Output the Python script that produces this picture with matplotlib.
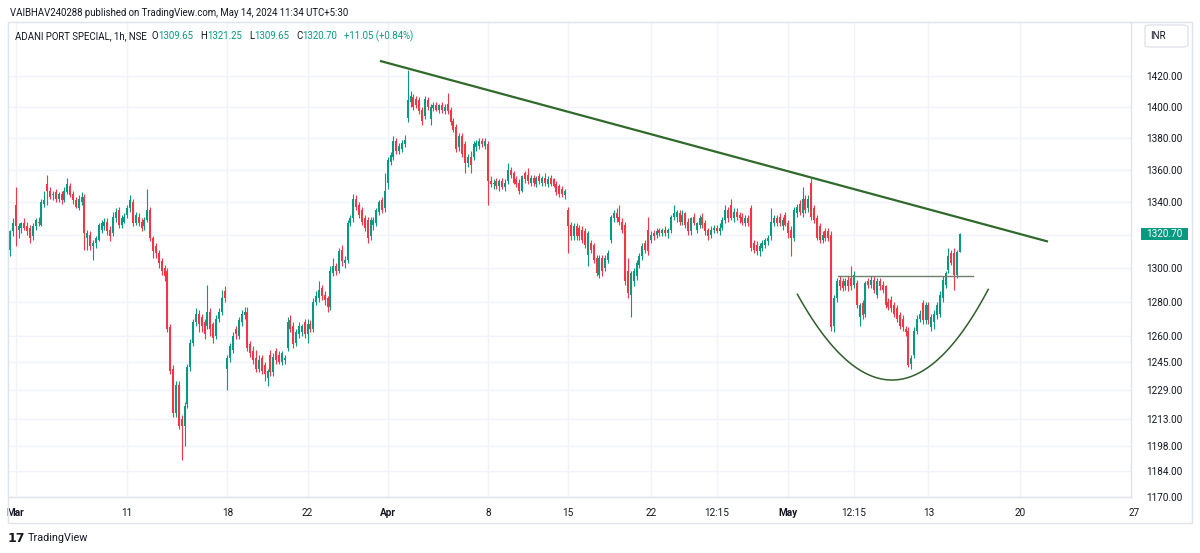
import numpy as np
import matplotlib
matplotlib.use('Agg')
import matplotlib.pyplot as plt
from matplotlib.patches import Rectangle, FancyBboxPatch
from matplotlib.ticker import NullLocator, NullFormatter, FixedLocator
import matplotlib.transforms as mtransforms

plt.rcParams['font.family'] = ['Roboto', 'DejaVu Sans']

# hourly OHLC, ADANI PORT SPECIAL (NSE), end of Feb -> 14 May 2024
opens = [
    1311, 1322, 1338, 1323, 1324, 1327, 1325, 1324, 1319, 1325,
    1328, 1326, 1339, 1351, 1347, 1344, 1346, 1342, 1345, 1341,
    1346, 1350, 1345, 1341, 1336, 1340, 1343, 1318, 1320, 1313,
    1315, 1317, 1323, 1325, 1328, 1323, 1321, 1330, 1335, 1326,
    1328, 1332, 1336, 1340, 1327, 1331, 1328, 1325, 1329, 1335,
    1318, 1313, 1309, 1304, 1300, 1298, 1265, 1241, 1216, 1232,
    1213, 1209, 1221, 1242, 1256, 1268, 1273, 1271, 1268, 1266,
    1274, 1267, 1260, 1270, 1274, 1286, 1241, 1247, 1252, 1264,
    1260, 1268, 1272, 1274, 1255, 1251, 1247, 1241, 1247, 1243,
    1236, 1249, 1239, 1251, 1249, 1245, 1246, 1253, 1269, 1266,
    1256, 1261, 1262, 1268, 1261, 1267, 1264, 1280, 1282, 1288,
    1284, 1282, 1277, 1297, 1301, 1298, 1311, 1303, 1305, 1327,
    1330, 1342, 1338, 1335, 1330, 1329, 1319, 1326, 1327, 1334,
    1341, 1336, 1352, 1365, 1368, 1378, 1372, 1373, 1376, 1393,
    1403, 1406, 1405, 1404, 1398, 1394, 1404, 1392, 1399, 1401,
    1398, 1401, 1397, 1402, 1398, 1391, 1387, 1374, 1381, 1376,
    1364, 1368, 1368, 1374, 1375, 1378, 1375, 1376, 1353, 1351,
    1353, 1350, 1353, 1349, 1353, 1360, 1358, 1354, 1352, 1347,
    1358, 1357, 1352, 1355, 1351, 1356, 1352, 1355, 1351, 1355,
    1354, 1351, 1350, 1348, 1344, 1335, 1326, 1319, 1325, 1324,
    1323, 1322, 1308, 1315, 1314, 1306, 1296, 1306, 1300, 1305,
    1317, 1330, 1333, 1331, 1328, 1326, 1298, 1284, 1292, 1295,
    1302, 1307, 1315, 1323, 1317, 1321, 1320, 1323, 1321, 1323,
    1321, 1323, 1331, 1331, 1333, 1328, 1333, 1328, 1322, 1331,
    1323, 1326, 1331, 1327, 1323, 1320, 1323, 1324, 1322, 1324,
    1329, 1335, 1338, 1330, 1334, 1332, 1331, 1327, 1330, 1336,
    1315, 1314, 1310, 1312, 1314, 1316, 1319, 1327, 1330, 1331,
    1325, 1332, 1327, 1323, 1318, 1333, 1339, 1333, 1342, 1336,
    1352, 1336, 1330, 1325, 1317, 1322, 1322, 1320, 1266, 1282,
    1293, 1292, 1289, 1293, 1294, 1290, 1291, 1271, 1279, 1273,
    1292, 1290, 1293, 1284, 1292, 1290, 1289, 1280, 1281, 1278,
    1276, 1272, 1270, 1264, 1263, 1244, 1249, 1263, 1270, 1279,
    1269, 1278, 1265, 1268, 1272, 1273, 1282, 1290, 1299, 1309,
    1309, 1296, 1309.65,
]
highs = [
    1323, 1330, 1349, 1327, 1328, 1330, 1328, 1326, 1327, 1330,
    1331, 1342, 1347, 1357, 1349, 1347, 1348, 1346, 1347, 1349,
    1355, 1352, 1347, 1343, 1344, 1346, 1345, 1323, 1322, 1317,
    1319, 1327, 1329, 1330, 1330, 1325, 1334, 1336, 1337, 1332,
    1333, 1338, 1344, 1342, 1334, 1333, 1330, 1331, 1348, 1337,
    1319, 1315, 1311, 1306, 1302, 1300, 1267, 1243, 1234, 1234,
    1215, 1222, 1244, 1258, 1270, 1276, 1275, 1273, 1270, 1290,
    1276, 1268, 1272, 1276, 1287, 1289, 1249, 1256, 1262, 1266,
    1271, 1275, 1277, 1277, 1257, 1254, 1252, 1249, 1249, 1245,
    1241, 1252, 1250, 1253, 1251, 1251, 1249, 1271, 1272, 1268,
    1264, 1268, 1267, 1270, 1270, 1269, 1282, 1286, 1292, 1290,
    1286, 1283, 1301, 1306, 1303, 1312, 1314, 1307, 1329, 1332,
    1345, 1344, 1340, 1337, 1332, 1331, 1331, 1331, 1336, 1341,
    1343, 1358, 1368, 1371, 1381, 1380, 1377, 1379, 1382, 1424,
    1410, 1408, 1407, 1406, 1400, 1407, 1406, 1402, 1403, 1403,
    1402, 1403, 1402, 1409, 1400, 1393, 1389, 1383, 1383, 1378,
    1370, 1372, 1378, 1379, 1380, 1380, 1380, 1378, 1356, 1354,
    1355, 1354, 1355, 1354, 1364, 1362, 1359, 1356, 1354, 1357,
    1359, 1361, 1357, 1357, 1356, 1358, 1356, 1358, 1356, 1357,
    1355, 1353, 1351, 1350, 1348, 1337, 1328, 1327, 1327, 1326,
    1325, 1324, 1322, 1317, 1315, 1308, 1308, 1308, 1308, 1311,
    1332, 1335, 1336, 1338, 1330, 1328, 1306, 1298, 1300, 1305,
    1309, 1315, 1317, 1331, 1322, 1323, 1324, 1324, 1324, 1325,
    1324, 1332, 1338, 1335, 1335, 1335, 1334, 1330, 1331, 1333,
    1328, 1332, 1333, 1329, 1324, 1325, 1326, 1326, 1327, 1331,
    1338, 1337, 1342, 1336, 1336, 1334, 1333, 1332, 1332, 1338,
    1317, 1316, 1315, 1317, 1318, 1320, 1336, 1332, 1332, 1333,
    1331, 1334, 1329, 1325, 1337, 1339, 1341, 1349, 1344, 1344,
    1355, 1338, 1332, 1327, 1322, 1324, 1324, 1322, 1284, 1294,
    1295, 1294, 1294, 1295, 1301, 1298, 1293, 1279, 1281, 1292,
    1294, 1295, 1295, 1294, 1294, 1292, 1290, 1282, 1283, 1280,
    1278, 1274, 1272, 1266, 1265, 1249, 1265, 1272, 1275, 1281,
    1280, 1280, 1273, 1275, 1280, 1286, 1295, 1298, 1312, 1311,
    1312, 1311, 1321.25,
]
lows = [
    1307, 1319, 1313, 1318, 1321, 1323, 1320, 1315, 1317, 1323,
    1325, 1325, 1337, 1338, 1342, 1341, 1340, 1340, 1339, 1340,
    1345, 1343, 1339, 1336, 1335, 1338, 1311, 1311, 1311, 1305,
    1312, 1316, 1321, 1323, 1320, 1316, 1319, 1328, 1324, 1324,
    1327, 1330, 1334, 1325, 1326, 1325, 1322, 1323, 1328, 1316,
    1306, 1306, 1300, 1296, 1292, 1262, 1238, 1214, 1214, 1207,
    1190, 1198, 1219, 1240, 1254, 1266, 1262, 1262, 1258, 1264,
    1260, 1256, 1258, 1268, 1272, 1280, 1229, 1245, 1250, 1258,
    1258, 1266, 1270, 1251, 1248, 1244, 1239, 1239, 1238, 1234,
    1231, 1237, 1237, 1244, 1244, 1243, 1244, 1251, 1262, 1253,
    1254, 1259, 1260, 1259, 1256, 1262, 1262, 1278, 1280, 1281,
    1278, 1274, 1275, 1295, 1296, 1297, 1301, 1300, 1303, 1325,
    1328, 1335, 1330, 1326, 1322, 1315, 1317, 1323, 1325, 1332,
    1333, 1334, 1348, 1363, 1366, 1370, 1370, 1371, 1374, 1390,
    1400, 1398, 1399, 1395, 1388, 1392, 1398, 1388, 1397, 1397,
    1396, 1396, 1395, 1395, 1388, 1384, 1371, 1372, 1368, 1358,
    1362, 1358, 1366, 1372, 1373, 1374, 1373, 1338, 1349, 1348,
    1348, 1347, 1348, 1347, 1351, 1355, 1351, 1349, 1345, 1346,
    1352, 1351, 1350, 1350, 1349, 1351, 1350, 1350, 1349, 1350,
    1349, 1344, 1343, 1343, 1342, 1309, 1317, 1317, 1317, 1317,
    1315, 1312, 1301, 1309, 1303, 1295, 1294, 1295, 1298, 1303,
    1315, 1328, 1328, 1326, 1321, 1290, 1282, 1271, 1289, 1293,
    1300, 1305, 1309, 1308, 1315, 1317, 1318, 1319, 1319, 1319,
    1318, 1321, 1329, 1328, 1326, 1326, 1324, 1320, 1320, 1326,
    1321, 1324, 1324, 1320, 1317, 1318, 1321, 1321, 1320, 1323,
    1327, 1328, 1329, 1328, 1329, 1327, 1326, 1325, 1325, 1310,
    1309, 1308, 1307, 1310, 1312, 1314, 1317, 1325, 1325, 1325,
    1323, 1325, 1318, 1307, 1316, 1331, 1332, 1331, 1333, 1334,
    1329, 1327, 1317, 1315, 1315, 1316, 1316, 1263, 1262, 1280,
    1287, 1286, 1287, 1286, 1287, 1288, 1276, 1266, 1270, 1271,
    1288, 1288, 1285, 1282, 1287, 1285, 1276, 1275, 1274, 1271,
    1268, 1264, 1263, 1260, 1242, 1241, 1247, 1261, 1268, 1267,
    1267, 1267, 1263, 1264, 1270, 1271, 1280, 1288, 1297, 1302,
    1287, 1294, 1309.65,
]
closes = [
    1322, 1327, 1325, 1325, 1327, 1324, 1322, 1318, 1325, 1329,
    1327, 1340, 1341, 1347, 1343, 1345, 1342, 1345, 1341, 1347,
    1351, 1344, 1341, 1337, 1342, 1343, 1321, 1321, 1313, 1315,
    1318, 1326, 1327, 1328, 1322, 1319, 1331, 1334, 1326, 1330,
    1331, 1336, 1341, 1327, 1332, 1327, 1324, 1329, 1335, 1318,
    1310, 1309, 1303, 1298, 1295, 1264, 1240, 1216, 1232, 1209,
    1209, 1220, 1242, 1256, 1268, 1273, 1267, 1266, 1261, 1274,
    1264, 1259, 1270, 1274, 1282, 1282, 1247, 1254, 1260, 1261,
    1269, 1273, 1274, 1253, 1250, 1246, 1241, 1246, 1240, 1238,
    1240, 1239, 1248, 1246, 1245, 1250, 1247, 1268, 1264, 1255,
    1262, 1266, 1266, 1261, 1267, 1264, 1280, 1283, 1287, 1283,
    1281, 1277, 1298, 1301, 1298, 1310, 1304, 1305, 1327, 1330,
    1342, 1337, 1332, 1328, 1324, 1318, 1329, 1329, 1335, 1340,
    1335, 1347, 1366, 1369, 1378, 1372, 1375, 1377, 1379, 1404,
    1407, 1400, 1401, 1397, 1391, 1405, 1400, 1400, 1401, 1398,
    1401, 1398, 1400, 1397, 1390, 1385, 1373, 1381, 1370, 1364,
    1368, 1363, 1376, 1377, 1378, 1376, 1378, 1353, 1351, 1352,
    1350, 1353, 1349, 1352, 1360, 1357, 1352, 1351, 1347, 1356,
    1354, 1353, 1355, 1352, 1355, 1353, 1355, 1352, 1354, 1351,
    1350, 1346, 1345, 1345, 1347, 1325, 1319, 1325, 1319, 1319,
    1317, 1314, 1321, 1311, 1305, 1297, 1306, 1298, 1306, 1309,
    1331, 1333, 1330, 1328, 1323, 1292, 1285, 1297, 1298, 1303,
    1307, 1313, 1311, 1310, 1320, 1319, 1322, 1321, 1323, 1321,
    1323, 1331, 1333, 1334, 1328, 1332, 1326, 1322, 1330, 1327,
    1327, 1330, 1326, 1322, 1319, 1323, 1324, 1322, 1324, 1329,
    1335, 1330, 1330, 1334, 1331, 1330, 1328, 1330, 1327, 1312,
    1311, 1310, 1313, 1315, 1317, 1318, 1328, 1330, 1327, 1327,
    1329, 1326, 1321, 1318, 1335, 1337, 1334, 1342, 1335, 1342,
    1331, 1329, 1318, 1317, 1320, 1318, 1318, 1265, 1282, 1292,
    1289, 1288, 1292, 1289, 1289, 1296, 1278, 1278, 1272, 1291,
    1290, 1293, 1287, 1292, 1289, 1287, 1278, 1277, 1276, 1273,
    1270, 1266, 1265, 1262, 1243, 1247, 1263, 1270, 1273, 1269,
    1278, 1269, 1271, 1273, 1278, 1284, 1293, 1297, 1307, 1303,
    1296, 1309.65, 1320.70,
]

# time axis labels (bar index where each label sits)
tick_pos = [2, 41, 76, 104, 132, 167, 195, 224, 247, 272, 295, 321, 353, 393]
tick_lbl = ['Mar', '11', '18', '22', 'Apr', '8', '15', '22', '12:15', 'May', '12:15', '13', '20', '27']
month_lbl = {'Mar', 'Apr', 'May'}

price_ticks = [1170, 1184, 1198, 1213, 1229, 1245, 1260, 1280, 1300, 1320, 1340, 1360, 1380, 1400, 1420]

# drawings: trend line, neckline, cup arc (bar index, price)
trend_x = [129.3, 362.8]
trend_y = [1429.8, 1315.8]
neck_x = [289.4, 336.6]
neck_y = [1295.0, 1295.0]
arc_x = [275.2, 308.9, 341.9]
arc_y = [1284.3, 1185.6, 1287.2]

last_price = 1320.70

UP = '#089981'
DOWN = '#f23645'
TXT = '#131722'
GRID = '#f0f3fa'
BORDER = '#e0e3eb'

W, H = 1200, 553
fig = plt.figure(figsize=(W / 100, H / 100), dpi=100)
fig.patch.set_facecolor('white')


def fx(x):
    return x / W


def fy(y):
    return 1 - y / H


ax_l, ax_r, ax_t, ax_b = 8, 1131, 22, 497
ax = fig.add_axes([fx(ax_l), fy(ax_b), (ax_r - ax_l) / W, (ax_b - ax_t) / H])
ax.set_yscale('log')
ax.set_xlim(-0.7, 391.8)
ax.set_ylim(1170, 1455.6)

o = np.array(opens, dtype=float)
h = np.array(highs, dtype=float)
l = np.array(lows, dtype=float)
c = np.array(closes, dtype=float)
assert len(o) == len(h) == len(l) == len(c)
idx = np.arange(len(c))
cols = np.where(c >= o, UP, DOWN)

# grid
for p in tick_pos:
    ax.axvline(p, color=GRID, lw=1, zorder=0)
for p in price_ticks:
    ax.axhline(p, color=GRID, lw=1, zorder=0)

# candles
ax.vlines(idx, l, h, colors=cols, lw=0.8, zorder=2)
body_lo = np.minimum(o, c)
body_h = np.maximum(np.abs(c - o), 0.4)
ax.bar(idx, body_h, bottom=body_lo, width=0.7, color=cols, lw=0, zorder=3)

# drawings
ax.plot(trend_x, trend_y, color='#2f6a2b', lw=1.6, zorder=4, solid_capstyle='butt')
ax.plot(neck_x, neck_y, color='#6f7f6a', lw=1.0, zorder=4)
t = np.linspace(0, 1, 80)
lx = np.log(arc_y)
bx = (1 - t) ** 2 * arc_x[0] + 2 * (1 - t) * t * arc_x[1] + t ** 2 * arc_x[2]
by = np.exp((1 - t) ** 2 * lx[0] + 2 * (1 - t) * t * lx[1] + t ** 2 * lx[2])
ax.plot(bx, by, color='#2f5f2b', lw=1.1, zorder=4)

# price scale
ax.yaxis.tick_right()
ax.yaxis.set_major_locator(FixedLocator(price_ticks))
ax.yaxis.set_minor_locator(NullLocator())
ax.yaxis.set_minor_formatter(NullFormatter())
ax.set_yticklabels(['%.2f' % p for p in price_ticks])
ax.tick_params(axis='y', length=0, pad=11, labelsize=7.2, labelcolor=TXT)
ax.set_xticks([])

for s in ['top', 'left']:
    ax.spines[s].set_visible(False)
for s in ['right', 'bottom']:
    ax.spines[s].set_color(BORDER)
    ax.spines[s].set_linewidth(1)

# time labels
tr = mtransforms.blended_transform_factory(ax.transData, ax.transAxes)
for p, lab in zip(tick_pos, tick_lbl):
    ax.text(p, -16 / (ax_b - ax_t), lab, transform=tr, ha='center', va='center',
            fontsize=7.2, color=TXT, fontweight='bold' if lab in month_lbl else 'normal',
            clip_on=False)

# last price tag
fig.add_artist(Rectangle((fx(1141), fy(240)), 47 / W, 12 / H, transform=fig.transFigure,
                         facecolor=UP, edgecolor='none', zorder=10))
fig.text(fx(1164.5), fy(234), '%.2f' % last_price, color='white', fontsize=7.2,
         ha='center', va='center', zorder=11)

# outer frame
fig.add_artist(Rectangle((fx(8), fy(523)), (1192 - 8) / W, (523 - 22) / H, transform=fig.transFigure,
                         facecolor='none', edgecolor=BORDER, lw=1, zorder=12))

# INR button
fig.add_artist(FancyBboxPatch((fx(1145), fy(47)), 43 / W, 22 / H, boxstyle='round,pad=0,rounding_size=0.004',
                              transform=fig.transFigure, facecolor='white', edgecolor=BORDER, lw=1, zorder=10))
fig.text(fx(1150), fy(36), 'INR', color=TXT, fontsize=7, ha='left', va='center', zorder=11)

# header
fig.text(fx(10), fy(13), 'VAIBHAV240288 published on TradingView.com, May 14, 2024 11:34 UTC+5:30',
         color=TXT, fontsize=6.95, ha='left', va='center')

# legend row, laid out one piece after another
legend_parts = [
    ('O', TXT, 5), ('1309.65', UP, 0),
    ('H', TXT, 7), ('1321.25', UP, 0),
    ('L', TXT, 7), ('1309.65', UP, 0),
    ('C', TXT, 7), ('1320.70', UP, 0),
    ('+11.05 (+0.84%)', UP, 7),
]
prev = fig.text(fx(15), fy(36), 'ADANI PORT SPECIAL, 1h, NSE', color=TXT, fontsize=6.9,
                ha='left', va='center')
for s, col, gap in legend_parts:
    prev = ax.annotate(s, xy=(1, 0.5), xycoords=prev, xytext=(gap, 0), textcoords='offset pixels',
                       color=col, fontsize=6.9, ha='left', va='center', annotation_clip=False)

# footer logo
fig.text(fx(8), fy(538), '17', color=TXT, fontsize=9, fontweight='heavy',
         family='DejaVu Sans', ha='left', va='center')
fig.text(fx(28), fy(538), 'TradingView', color=TXT, fontsize=7.8, ha='left', va='center')

fig.savefig('out.png', dpi=100, facecolor='white')
